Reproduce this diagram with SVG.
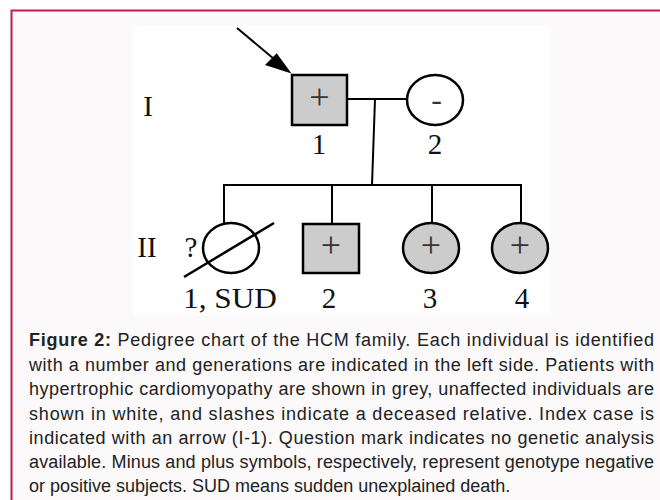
<svg xmlns="http://www.w3.org/2000/svg" width="660" height="500" viewBox="0 0 660 500">
<style>
.sym{stroke:#000;stroke-width:2.5}
.aff{fill:#cccccc}
.un{fill:#ffffff}
.ln{stroke:#000;stroke-width:2;fill:none}
.lbl{font-family:"Liberation Serif","Times New Roman",serif;font-size:29px;fill:#111}
.gt{font-family:"Liberation Serif","Times New Roman",serif;font-size:36px;fill:#333;text-anchor:middle}
.cap{font-family:"Liberation Sans",Arial,sans-serif;font-size:18px;fill:#222}
</style>
<rect x="0" y="0" width="660" height="500" fill="#ffffff"/>
<rect x="11.5" y="10.5" width="700" height="520" fill="#fbf9fa" stroke="#c41a45" stroke-width="2"/>
<rect x="133" y="26" width="417" height="289" fill="#ffffff"/>
<g id="connectors">
<line class="ln" x1="237" y1="28" x2="280" y2="64" stroke-width="2.5"/>
<polygon points="291.5,73.5 265,65 276.7,53.3" fill="#000"/>
<line class="ln" x1="347" y1="99" x2="407" y2="99"/>
<line class="ln" x1="375" y1="99" x2="372" y2="185"/>
<line class="ln" x1="223" y1="185" x2="522" y2="185"/>
<line class="ln" x1="224" y1="184" x2="224" y2="223"/>
<line class="ln" x1="332" y1="184" x2="332" y2="224"/>
<line class="ln" x1="432" y1="184" x2="432" y2="223"/>
<line class="ln" x1="521" y1="184" x2="521" y2="223"/>
</g>
<g id="gen-labels">
<text class="lbl" x="148" y="116" text-anchor="middle">I</text>
<text class="lbl" x="147" y="257" text-anchor="middle">II</text>
</g>
<g id="I-1">
<rect class="sym aff" x="292" y="75" width="55" height="50"/>
<text class="gt" x="319.5" y="109">+</text>
<text class="lbl" x="319" y="154" text-anchor="middle">1</text>
</g>
<g id="I-2">
<ellipse class="sym un" cx="435" cy="100" rx="28" ry="25"/>
<text class="gt" x="436.5" y="110" style="font-size:32px">-</text>
<text class="lbl" x="435" y="154" text-anchor="middle">2</text>
</g>
<g id="II-1">
<ellipse class="sym un" cx="231" cy="248" rx="28" ry="25"/>
<line x1="184" y1="277" x2="274" y2="223" stroke="#000" stroke-width="2.5"/>
<text class="lbl" x="191" y="257" text-anchor="middle">?</text>
<text class="lbl" x="183" y="308" textLength="94" lengthAdjust="spacingAndGlyphs">1, SUD</text>
</g>
<g id="II-2">
<rect class="sym aff" x="303" y="224" width="56" height="49"/>
<text class="gt" x="331" y="257">+</text>
<text class="lbl" x="329" y="308" text-anchor="middle">2</text>
</g>
<g id="II-3">
<ellipse class="sym aff" cx="431" cy="248" rx="28" ry="25"/>
<text class="gt" x="431" y="257">+</text>
<text class="lbl" x="430" y="308" text-anchor="middle">3</text>
</g>
<g id="II-4">
<ellipse class="sym aff" cx="520" cy="248" rx="28" ry="25"/>
<text class="gt" x="520" y="257">+</text>
<text class="lbl" x="522" y="308" text-anchor="middle">4</text>
</g>
<g id="caption" class="cap">
<text x="29" y="346" textLength="625" lengthAdjust="spacing"><tspan font-weight="bold">Figure 2:</tspan> Pedigree chart of the HCM family. Each individual is identified</text>
<text x="29" y="370.5" textLength="625" lengthAdjust="spacing">with a number and generations are indicated in the left side. Patients with</text>
<text x="29" y="395" textLength="625" lengthAdjust="spacing">hypertrophic cardiomyopathy are shown in grey, unaffected individuals are</text>
<text x="29" y="419.5" textLength="625" lengthAdjust="spacing">shown in white, and slashes indicate a deceased relative. Index case is</text>
<text x="29" y="444" textLength="625" lengthAdjust="spacing">indicated with an arrow (I-1). Question mark indicates no genetic analysis</text>
<text x="29" y="468" textLength="625" lengthAdjust="spacing">available. Minus and plus symbols, respectively, represent genotype negative</text>
<text x="29" y="492">or positive subjects. SUD means sudden unexplained death.</text>
</g>
</svg>
